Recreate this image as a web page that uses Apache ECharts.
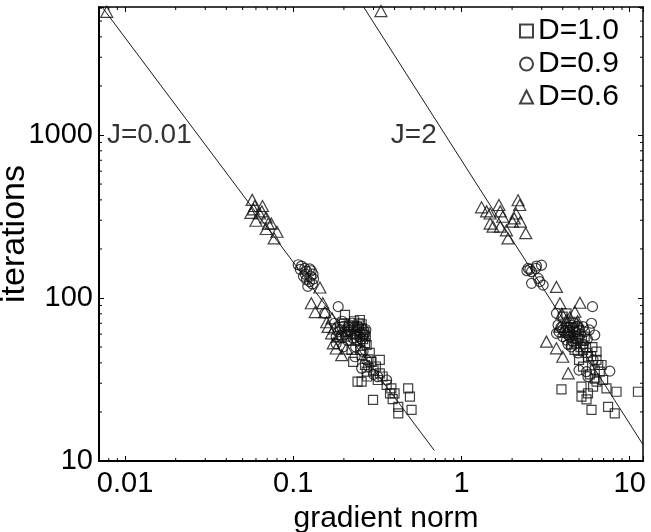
<!DOCTYPE html>
<html>
<head>
<meta charset="utf-8">
<script src="https://cdn.jsdelivr.net/npm/echarts@6/dist/echarts.min.js"></script>
<style>html,body{margin:0;padding:0;background:#fff;}#c{width:651px;height:532px;}</style>
</head>
<body>
<div id="c"></div>
<script>
// ---- data ----
const seriesNames = ['D=1.0', 'D=0.9', 'D=0.6'];
const xTickLabels = ['0.01', '0.1', '1', '10'];
const yTickLabels = ['10', '100', '1000'];
const minorX = [0.008,0.009,0.02,0.03,0.04,0.05,0.06,0.07,0.08,0.09,0.2,0.3,0.4,0.5,0.6,0.7,0.8,0.9,2,3,4,5,6,7,8,9];
const minorY = [20,30,40,50,60,70,80,90,200,300,400,500,600,700,800,900,2000,3000,4000,5000,6000];

const squaresD10 = [
  [0.203,78.7],[0.249,73.3],[0.273,51.5],[0.327,41.7],[0.292,40.6],[0.255,30.7],[0.241,30.7],[0.318,31.4],[0.298,23.7],[0.359,29.3],
  [0.383,27.9],[0.376,26],[0.421,21.5],[0.421,19.6],[0.482,27.9],[0.494,24.8],[0.505,20.6],[0.327,34.5],[0.273,35.3],[0.189,66.7],
  [0.227,66.7],[0.255,65.2],[0.261,59.3],[0.238,55.2],[0.267,52.8],[0.222,48],[0.255,44.7],[0.285,46],[0.227,40.6],[0.267,38.8],
  [0.21,62],[0.235,60],[0.245,70],[0.265,62],[0.25,48],[0.28,42],[0.3,36],[0.31,38],[0.275,33],[0.34,33],[0.4,26],[0.39,24],
  [0.2,70],[0.215,68],[0.23,72],[0.24,67],[0.255,69],[0.26,56],[0.25,54],[0.27,58],[0.22,64],[0.205,58],
  [6.35,46.9],[6.8,38.8],[3.93,27.5],[5.17,28.6],[5.17,24.8],[5.54,23.9],[5.93,20.6],[7.44,21.5],[8.15,19.6],[8.35,26.6],
  [11.2,26.6],[6.95,31.4],[7.28,27.9],[6.35,30.7],[6.06,28.6],[5.65,26],[6.5,38.8],[6.35,41.7],[6.64,35.3],[4.21,80.5],
  [4.0,76.8],[5.28,48],[5.54,46],[5.0,41.7],[5.28,37.9],[4.8,52.7],[4.38,60.7],[4.6,70],[5.0,63.7],[5.65,43.6],[5.8,34],
  [6.2,32],[4.9,56],[5.4,58],[5.1,50],[4.4,66],[6.0,50],
  [4.3,63],[4.6,62],[4.9,66],[5.2,55],[4.7,48],[4.5,52],[5.5,50],[5.9,44],[6.2,36]
];
const circlesD09 = [
  [0.107,160],[0.112,157],[0.117,152],[0.12,146],[0.125,151],[0.128,147],[0.131,140],[0.115,136],[0.12,130],[0.125,126],
  [0.13,122],[0.122,118],[0.118,140],[0.132,131],[0.11,150],[0.127,136],[0.185,88.5],[0.154,80.5],[0.176,70],[0.18,57.9],
  [0.203,62.1],[0.227,56.6],[0.18,52.5],[0.249,57.9],[0.261,63.7],[0.233,43.6],[0.255,37.1],[0.273,41.7],[0.359,31.4],[0.318,32.9],
  [0.198,50.2],[0.212,66.7],[0.19,64],[0.22,60],[0.24,64],[0.25,61],[0.21,55],[0.235,50],[0.26,47],[0.28,38],[0.3,34],[0.245,66],[0.195,72],
  [0.2,67],[0.215,63],[0.23,66],[0.24,59],[0.255,56],[0.265,60],[0.27,64],[0.225,70],[0.205,60],[0.185,62],[0.195,57],
  [2.49,152],[2.45,147],[2.61,145],[2.79,157],[2.99,159],[2.61,123],[2.92,126],[3.06,120],[2.86,132],[2.77,152],[2.55,150],
  [6.01,88.5],[3.67,80.5],[3.67,60.7],[3.75,68.3],[6.2,59.3],[7.62,35.6],[5.54,35.3],[5.0,36.1],[6.06,41.7],[4.21,55.2],
  [4.0,63.7],[4.6,65.2],[5.28,66.7],[5.75,63.7],[4.49,50.2],[4.93,46],[5.65,32.9],[5.93,70],[4.31,59.3],[4.1,62],[4.4,58],
  [4.8,62],[5.1,60],[4.6,54],[5.3,52],[3.9,66],[4.7,70],
  [4.2,66],[4.5,68],[4.85,67],[5.0,57],[4.7,59],[4.3,52],[5.4,62],[4.0,58],[3.8,62],[5.6,56]
];
const trianglesD06 = [
  [0.00778,5700],[0.057,400],[0.059,367],[0.056,333],[0.0656,367],[0.065,340],[0.06,298],[0.069,312],[0.071,286],[0.074,286],
  [0.08,255],[0.077,232],[0.063,330],[0.069,265],[0.058,350],[0.144,116],[0.128,92.8],[0.15,93],[0.135,82],[0.154,82],
  [0.158,71],[0.161,66.5],[0.169,60.7],[0.173,52.7],[0.194,44.6],[0.185,57.9],[0.207,49],
  [0.175,65],[0.19,60],[0.18,49],[0.17,75],
  [0.332,5760],[1.316,360],[1.41,340],[1.48,330],[1.67,372],[1.70,340],[2.17,398],[2.22,372],[2.11,330],[2.06,308],
  [2.01,294],[2.24,294],[1.48,286],[1.54,274],[1.70,274],[1.85,260],[1.89,232],[2.41,250],[1.76,315],[3.67,117],
  [3.85,92.8],[5.06,93.5],[4.72,82.4],[3.2,54],[3.67,49.1],[4.0,43.6],[4.31,34.5],[4.21,73.3],[3.85,66.7],[4.6,57.9],
  [4.4,76],[4.9,72],[3.95,80],[4.2,62]
];
const fitJ001 = [[0.0073,6100],[0.69,11.6]];
const fitJ2 = [[0.262,6100],[12,12.6]];
const annotations = [{text:'J=0.01', at:[0.0078,1000]}, {text:'J=2', at:[0.38,1000]}];

const FONT = '"Liberation Sans", Arial, Helvetica, sans-serif';
const chart = echarts.init(document.getElementById('c'), null, {renderer:'canvas'});

function isPow10(v){ const l = Math.log10(v); return Math.abs(l - Math.round(l)) < 1e-6; }
function fmtX(v){ if(!isPow10(v)) return ''; const i = Math.round(Math.log10(v)) + 2; return xTickLabels[i] || ''; }
function fmtY(v){ if(!isPow10(v)) return ''; const i = Math.round(Math.log10(v)) - 1; return yTickLabels[i] || ''; }

const hollow = {color:'rgba(0,0,0,0)', borderColor:'#111', borderWidth:1.2};
const xMin = 0.007, xMax = 12, yMin = 10, yMax = 6100;

function baseAxis(extra){
  return Object.assign({
    type:'log', logBase:10, splitLine:{show:false},
    axisTick:{inside:true, length:5, lineStyle:{color:'#000', width:1}},
    axisLine:{lineStyle:{color:'#000', width:2}},
    axisLabel:{show:false}
  }, extra);
}

const minorData = minorX.map(v => [v, 100, 0]).concat(minorY.map(v => [1, v, 1]));

chart.setOption({
  animation:false,
  textStyle:{fontFamily:FONT},
  grid:{left:99, right:8, top:7, bottom:71, outerBoundsMode:'none', containLabel:false},
  legend:{
    orient:'vertical', left:519, top:16, padding:0, itemWidth:13, itemHeight:13, itemGap:3,
    data:[{name:seriesNames[0], icon:'rect'},{name:seriesNames[1], icon:'circle'},{name:seriesNames[2], icon:'triangle'}],
    textStyle:{fontSize:30, color:'#000', fontFamily:FONT, lineHeight:30}
  },
  xAxis:[
    baseAxis({min:xMin, max:xMax, position:'bottom',
      axisLabel:{show:true, formatter:fmtX, fontSize:29, color:'#000', margin:8, fontFamily:FONT},
      name:'gradient norm', nameLocation:'middle', nameGap:43, nameMoveOverlap:false,
      nameTextStyle:{fontSize:30, color:'#000', fontFamily:FONT, padding:[0,0,0,30]}}),
    baseAxis({min:xMin, max:xMax, position:'top', axisLine:{lineStyle:{color:'#000', width:1.5}}})
  ],
  yAxis:[
    baseAxis({min:yMin, max:yMax, position:'left',
      axisLabel:{show:true, formatter:fmtY, fontSize:29, color:'#000', margin:6, fontFamily:FONT},
      name:'iterations', nameLocation:'middle', nameGap:67, nameMoveOverlap:false,
      nameTextStyle:{fontSize:34, color:'#000', fontFamily:FONT}}),
    baseAxis({min:yMin, max:yMax, position:'right', axisLine:{lineStyle:{color:'#000', width:1.5}}})
  ],
  series:[
    {type:'line', data:fitJ001, showSymbol:false, symbol:'none', lineStyle:{color:'#000', width:0.9}, silent:true, z:1},
    {type:'line', data:fitJ2, showSymbol:false, symbol:'none', lineStyle:{color:'#000', width:0.9}, silent:true, z:1},
    {type:'custom', silent:true, data:minorData, encode:{x:0, y:1},
      renderItem:function(params, api){
        const cs = params.coordSys;
        const kind = api.value(2);
        const st = {stroke:'#000', lineWidth:1};
        if (kind === 0) {
          const px = api.coord([api.value(0), 100])[0];
          return {type:'group', children:[
            {type:'line', shape:{x1:px, y1:cs.y+cs.height, x2:px, y2:cs.y+cs.height-3}, style:st},
            {type:'line', shape:{x1:px, y1:cs.y, x2:px, y2:cs.y+3}, style:st}
          ]};
        }
        const py = api.coord([1, api.value(1)])[1];
        return {type:'group', children:[
          {type:'line', shape:{x1:cs.x, y1:py, x2:cs.x+3, y2:py}, style:st},
          {type:'line', shape:{x1:cs.x+cs.width, y1:py, x2:cs.x+cs.width-3, y2:py}, style:st}
        ]};
      }},
    {type:'scatter', name:seriesNames[0], data:squaresD10, symbol:'rect', symbolSize:9, itemStyle:hollow, z:3},
    {type:'scatter', name:seriesNames[1], data:circlesD09, symbol:'circle', symbolSize:10, itemStyle:hollow, z:3},
    {type:'scatter', name:seriesNames[2], data:trianglesD06, symbol:'triangle', symbolSize:[12,11], itemStyle:hollow, z:3},
    {type:'scatter', data:annotations.map(a => ({value:a.at, label:{formatter:a.text}})), symbolSize:0, silent:true,
      label:{show:true, position:'right', distance:0, fontSize:28, color:'#000', fontFamily:FONT}, z:4}
  ]
});
</script>
</body>
</html>
